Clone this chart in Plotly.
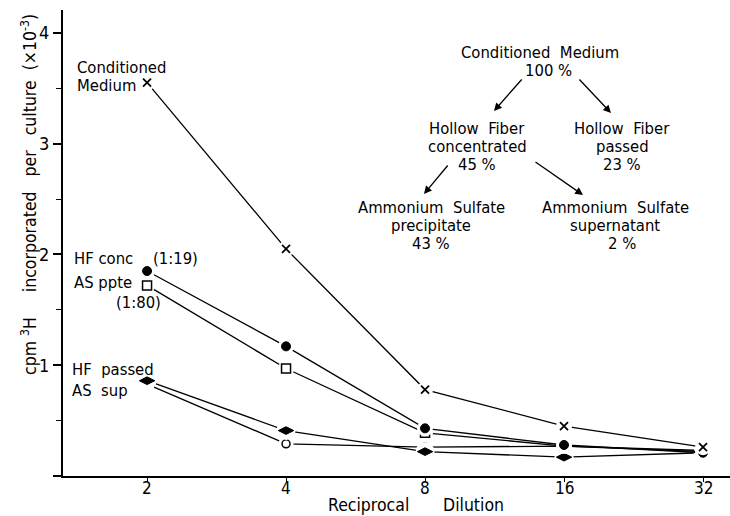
import math
import plotly.graph_objects as go

# ---- data ----
dilution = [2, 4, 8, 16, 32]
cond_medium = [3.55, 2.05, 0.78, 0.45, 0.26]
hf_conc = [1.85, 1.17, 0.43, 0.28, 0.21]
as_ppte = [1.72, 0.97, 0.39, 0.27, 0.22]
hf_passed = [0.86, 0.41, 0.22, 0.17, 0.21]
as_sup = [0.83, 0.29, 0.26, 0.27, 0.23]

y_tick_vals = [0, 1, 2, 3, 4]
y_tick_text = ["", "1", "2", "3", "4"]
x_tick_vals = [2, 4, 8, 16, 32]
x_tick_text = ["2", "4", "8", "16", "32"]

FONT = "DejaVu Sans Condensed, Liberation Sans Narrow, DejaVu Sans, sans-serif"
W, H = 730, 516
ML, MR, MT, MB = 63, 0, 10, 40
PW, PH = W - ML - MR, H - MT - MB


def px(x):
    return (x - ML) / PW


def py(y):
    return (H - MB - y) / PH


fig = go.Figure()

series = [
    ("AS sup", as_sup, "circle-open", 8, 7, 1.5),
    ("HF passed", hf_passed, "diamond-wide", 11, 8, 1),
    ("AS ppte", as_ppte, "square-open", 9, 7, 1.5),
    ("HF conc", hf_conc, "circle", 9, 7, 1),
    ("Conditioned Medium", cond_medium, "x-thin", 8, 8, 1.8),
]

for name, vals, sym, msize, gap, lw in series:
    fig.add_trace(go.Scatter(x=dilution, y=vals, mode="lines",
                             line=dict(color="black", width=1.3),
                             showlegend=False, hoverinfo="skip"))
    fig.add_trace(go.Scatter(x=dilution, y=vals, mode="markers",
                             marker=dict(symbol="circle", size=msize + gap, color="white",
                                         line=dict(width=0)),
                             showlegend=False, hoverinfo="skip"))
    fig.add_trace(go.Scatter(x=dilution, y=vals, mode="markers", name=name,
                             marker=dict(symbol=sym, size=msize, color="black",
                                         line=dict(color="black", width=lw)),
                             showlegend=False))

ann = []


def text(x, y, s, anchor="center", size=16.5):
    ann.append(dict(x=px(x), y=py(y), xref="paper", yref="paper", text=s,
                    showarrow=False, xanchor=anchor, yanchor="middle",
                    font=dict(family=FONT, size=size, color="black")))


def arrow(x0, y0, x1, y1):
    ann.append(dict(x=px(x1), y=py(y1), xref="paper", yref="paper", text="",
                    showarrow=True, ax=x0 - x1, ay=y0 - y1, axref="pixel", ayref="pixel",
                    arrowhead=2, arrowsize=1.2, arrowwidth=1.3, arrowcolor="black"))


# x tick labels (placed just under the axis, as in the reference)
for v, t in zip(x_tick_vals, x_tick_text):
    ann.append(dict(x=math.log10(v), y=py(488), xref="x", yref="paper", text=t,
                    showarrow=False, xanchor="center", yanchor="middle",
                    font=dict(family=FONT, size=17, color="black")))

# series labels
text(75, 68, "Conditioned", "left")
text(75, 86, "Medium", "left")
text(72, 258, "HF conc", "left")
text(151, 258, "(1:19)", "left")
text(72, 282, "AS ppte", "left")
text(114, 302, "(1:80)", "left")
text(70, 369, "HF  passed", "left")
text(70, 390, "AS  sup", "left")

# flow diagram
text(540, 52, "Conditioned  Medium")
text(548, 70, "100 %")
arrow(523, 78, 494, 111)
arrow(578, 78, 611, 113)
text(477, 128, "Hollow  Fiber")
text(477, 146, "concentrated")
text(477, 164, "45 %")
text(622, 128, "Hollow  Fiber")
text(622, 146, "passed")
text(622, 164, "23 %")
arrow(449, 164, 424, 194)
arrow(534, 161, 583, 195)
text(431, 207, "Ammonium  Sulfate")
text(431, 225, "precipitate")
text(431, 243, "43 %")
text(615, 207, "Ammonium  Sulfate")
text(615, 225, "supernatant")
text(622, 243, "2 %")

# axis titles
text(368, 505, "Reciprocal", size=17.5)
text(474, 505, "Dilution", size=17.5)
ann.append(dict(x=px(29), y=py(195), xref="paper", yref="paper",
                text="cpm <sup>3</sup>H     incorporated   per   culture  (×10<sup>-3</sup>)",
                showarrow=False, textangle=-90, xanchor="center", yanchor="middle",
                font=dict(family=FONT, size=17.5, color="black")))

fig.update_layout(
    width=W, height=H,
    margin=dict(l=ML, r=MR, t=MT, b=MB),
    paper_bgcolor="white", plot_bgcolor="white",
    annotations=ann,
    xaxis=dict(type="log", range=[0.119, 1.5636], tickvals=x_tick_vals, showticklabels=False,
               showgrid=False, zeroline=False, showline=True, linecolor="black", linewidth=1.5,
               ticks="outside", ticklen=4, tickwidth=1.3, tickcolor="black"),
    yaxis=dict(range=[0, 4.206], tickvals=y_tick_vals, ticktext=y_tick_text,
               showgrid=False, zeroline=False, showline=True, linecolor="black", linewidth=2,
               ticks="outside", ticklen=8, tickwidth=1.5, tickcolor="black",
               minor=dict(tickvals=[0.5, 1.5, 2.5, 3.5], ticks="outside", ticklen=5,
                          tickwidth=1.3, tickcolor="black"),
               tickfont=dict(family=FONT, size=18, color="black")),
)

fig.write_html("out.html")
